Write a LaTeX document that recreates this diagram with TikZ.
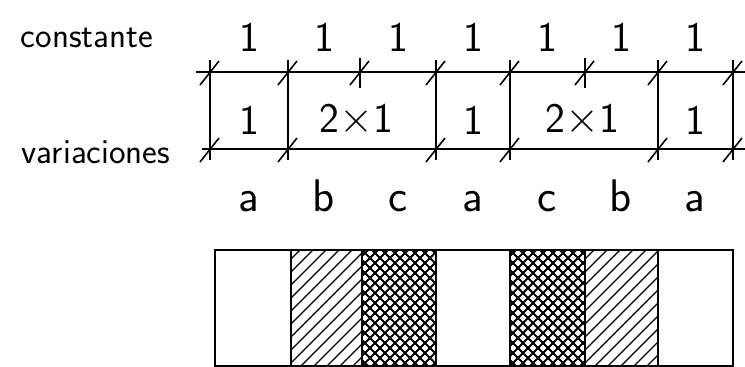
\documentclass[tikz,border=0pt]{standalone}
\tikzset{
  hand/.style={font=\sffamily\fontsize{20}{22}\selectfont},
  num/.style={font=\sffamily\fontsize{24}{26}\selectfont},
  letter/.style={font=\sffamily\fontsize{26}{28}\selectfont, anchor=base},
  gridline/.style={line width=0.9pt},
  barline/.style={line width=1.3pt},
  hatchline/.style={line width=0.8pt},
  crossline/.style={line width=1.1pt},
}

\begin{document}
\begin{tikzpicture}[x=0.02cm, y=-0.02cm]
  \useasboundingbox (0,0) rectangle (745,367);
  % Row labels
  \node[hand] (const) at (87,38) {constante};
  \node[hand] (var) at (96,152) {variaciones};
  % Grid: two lines, verticals and tick marks
  \draw[gridline] (196,72) -- (745,72);
  \draw[gridline] (202,149) -- (745,149);
  \foreach \x in {210,288,436,510,658,733}
    {\draw[gridline] (\x,60) -- (\x,160);
     \draw[gridline] (\x-10,85) -- (\x+9,61);
     \draw[gridline] (\x-10,162) -- (\x+9,138);}
  \foreach \x in {360,585}
    {\draw[gridline] (\x,58) -- (\x,88);
     \draw[gridline] (\x-10,85) -- (\x+9,61);}
  % Constant units above
  \foreach \x [count=\i] in {249,324,398,473,547,621,695}
    \node[num] (k\i) at (\x,37) {1};
  % Variations inside the grid
  \node[num] (v1) at (249,120) {1};
  \node[num] (v2) at (356,120) {2$\times$1};
  \node[num] (v3) at (473,120) {1};
  \node[num] (v4) at (582,120) {2$\times$1};
  \node[num] (v5) at (695,120) {1};
  % Letters
  \foreach \x/\l [count=\i] in {249/a,324/b,398/c,473/a,547/c,621/b,695/a}
    \node[letter] (l\i) at (\x,212) {\l};
  % Bar: single hatching (b)
  \foreach \a/\b in {291/362, 585/658}
    {\begin{scope}
       \clip (\a,250) rectangle (\b,366);
       \foreach \s in {-120,-107,...,80}
         \draw[hatchline] (\a+\s,366) -- (\a+\s+116,250);
     \end{scope}}
  % Bar: cross hatching (c)
  \foreach \a/\b in {362/436, 510/585}
    {\begin{scope}
       \clip (\a,250) rectangle (\b,366);
       \foreach \s in {-120,-110,...,80}
         {\draw[crossline] (\a+\s,366) -- (\a+\s+116,250);
          \draw[crossline] (\a+\s,250) -- (\a+\s+116,366);}
     \end{scope}}
  \draw[barline] (215,250) rectangle (733,366);
  \foreach \x in {291,362,436,510,585,658}
    \draw[barline] (\x,250) -- (\x,366);
\end{tikzpicture}
\end{document}
